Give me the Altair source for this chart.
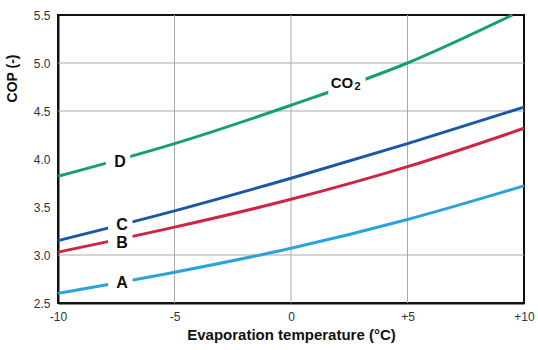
import altair as alt
import pandas as pd

# Series values
temps = [-10, -5, 0, 5, 10]
cop_A = [2.60, 2.82, 3.07, 3.37, 3.72]
cop_B = [3.03, 3.29, 3.58, 3.92, 4.32]
cop_C = [3.15, 3.46, 3.80, 4.16, 4.54]
temps_D = [-10, -5, 0, 5, 9.5]
cop_D = [3.82, 4.16, 4.56, 5.00, 5.50]

series_names = ["A", "B", "C", "D"]
series_colors = ["#2aa3dc", "#cf2447", "#1b57a5", "#16a06b"]

# Curve labels
label_text = ["A", "B", "C", "D"]
label_x = [-7.25, -7.25, -7.25, -7.34]
label_y = [2.71, 3.12, 3.31, 3.97]
co_label = ["CO"]
co_x = [2.19]
co_y = [4.79]
sub_label = ["2"]
sub_x = [2.86]
sub_y = [4.745]

# Gaps cut in the curves behind the labels
gap_x1 = [-7.85, -7.85, -7.85, -7.95, 1.60]
gap_x2 = [-6.80, -6.80, -6.80, -6.90, 3.20]
gap_y1 = [2.62, 3.04, 3.23, 3.88, 4.66]
gap_y2 = [2.80, 3.21, 3.40, 4.06, 4.90]

# Axes
x_ticks = [-10, -5, 0, 5, 10]
y_ticks = [2.5, 3.0, 3.5, 4.0, 4.5, 5.0, 5.5]
y_grid = [3.0, 4.5, 5.0]
x_grid = [-5, 0, 5]

rows = []
for name, xs, ys in [("A", temps, cop_A), ("B", temps, cop_B),
                     ("C", temps, cop_C), ("D", temps_D, cop_D)]:
    for t, c in zip(xs, ys):
        rows.append({"series": name, "t": t, "cop": c})
lines_df = pd.DataFrame(rows)

xscale = alt.Scale(domain=[-10, 10], nice=False, zero=False)
yscale = alt.Scale(domain=[2.5, 5.5], nice=False, zero=False)

FONT = "Liberation Sans"

base_x = alt.X("t:Q", scale=xscale,
               axis=alt.Axis(values=x_ticks, grid=False, ticks=False,
                             labelExpr="datum.value > 0 ? '+' + datum.value : '' + datum.value",
                             labelFlush=False, labelPadding=8, labelFontSize=12,
                             labelColor="#333333", labelFont=FONT,
                             title="Evaporation temperature (°C)", titleFont=FONT,
                             titleFontSize=15, titleFontWeight="bold",
                             titleColor="#111111", titlePadding=5,
                             domainColor="#111111", domainWidth=2))
base_y = alt.Y("cop:Q", scale=yscale,
               axis=alt.Axis(values=y_ticks, format=".1f", grid=False, ticks=False,
                             labelFlush=False, labelPadding=8, labelFontSize=12,
                             labelColor="#333333", labelFont=FONT,
                             title="COP (-)", titleFont=FONT, titleFontSize=14,
                             titleFontWeight="bold", titleColor="#111111",
                             titleAngle=270, titleX=-46, titleY=63,
                             titleAlign="center", titleBaseline="middle",
                             domainColor="#111111", domainWidth=2))

ygrid_df = pd.DataFrame({"cop": y_grid})
xgrid_df = pd.DataFrame({"t": x_grid})

hgrid = alt.Chart(ygrid_df).mark_rule(color="#aaaaaa", strokeWidth=1).encode(
    y=alt.Y("cop:Q", scale=yscale))
vgrid = alt.Chart(xgrid_df).mark_rule(color="#aaaaaa", strokeWidth=1).encode(
    x=alt.X("t:Q", scale=xscale))

lines = alt.Chart(lines_df).mark_line(strokeWidth=3, interpolate="monotone").encode(
    x=base_x, y=base_y,
    color=alt.Color("series:N", scale=alt.Scale(domain=series_names, range=series_colors),
                    legend=None))

gaps_df = pd.DataFrame({"x1": gap_x1, "x2": gap_x2, "y1": gap_y1, "y2": gap_y2})
gaps = alt.Chart(gaps_df).mark_rect(color="white").encode(
    x=alt.X("x1:Q", scale=xscale), x2="x2:Q",
    y=alt.Y("y1:Q", scale=yscale), y2="y2:Q")

labels_df = pd.DataFrame({"t": label_x, "cop": label_y, "txt": label_text})
labels = alt.Chart(labels_df).mark_text(font=FONT, fontSize=16, fontWeight="bold",
                                        color="#111111").encode(
    x=alt.X("t:Q", scale=xscale), y=alt.Y("cop:Q", scale=yscale), text="txt:N")

co_df = pd.DataFrame({"t": co_x, "cop": co_y, "txt": co_label})
co = alt.Chart(co_df).mark_text(font=FONT, fontSize=15, fontWeight="bold",
                                color="#111111").encode(
    x=alt.X("t:Q", scale=xscale), y=alt.Y("cop:Q", scale=yscale), text="txt:N")
sub_df = pd.DataFrame({"t": sub_x, "cop": sub_y, "txt": sub_label})
sub = alt.Chart(sub_df).mark_text(font=FONT, fontSize=11, fontWeight="bold",
                                  color="#111111").encode(
    x=alt.X("t:Q", scale=xscale), y=alt.Y("cop:Q", scale=yscale), text="txt:N")

chart = alt.layer(hgrid, vgrid, lines, gaps, labels, co, sub).properties(
    width=466, height=288,
    autosize=alt.AutoSizeParams(type="none"),
    padding={"left": 58, "top": 15, "right": 14, "bottom": 47},
    background="white",
).configure_view(stroke="#111111", strokeWidth=2)

chart.save("out.html", embed_options={"renderer": "svg", "actions": False})
